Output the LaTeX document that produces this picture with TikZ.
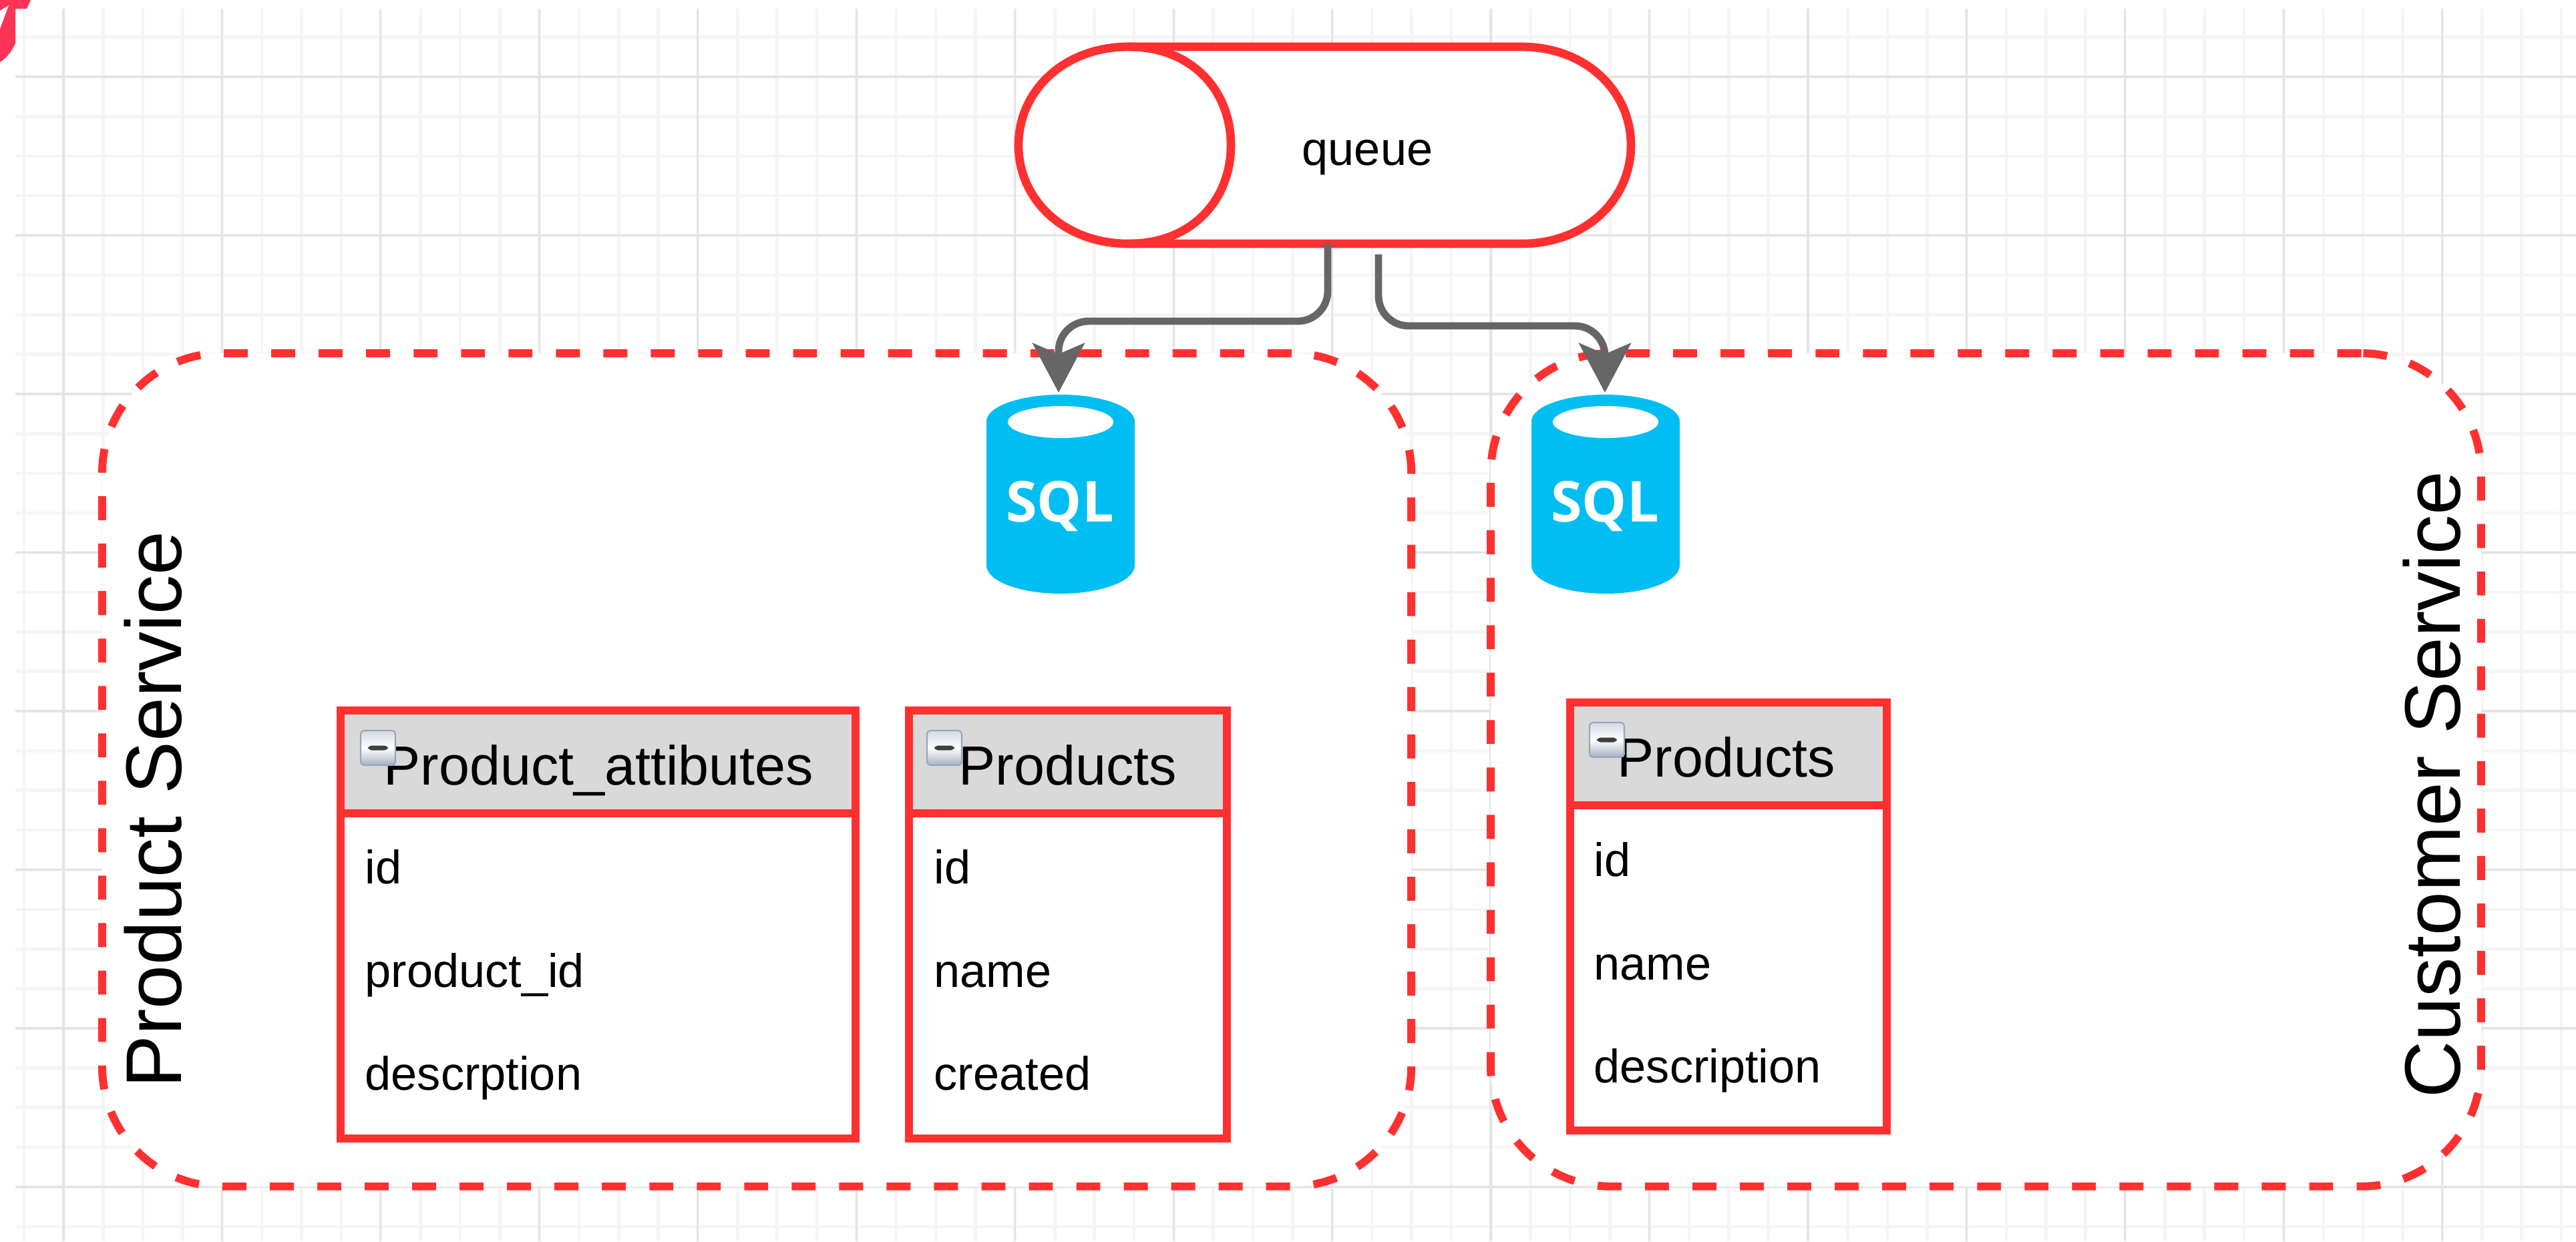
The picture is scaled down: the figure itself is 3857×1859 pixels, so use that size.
\documentclass[tikz,border=0pt]{standalone}
\usepackage{fontspec}
\setmainfont{Liberation Sans}
\newfontfamily\sqlfont{Open Sans}
\usetikzlibrary{arrows.meta,positioning}
\definecolor{accentred}{HTML}{FF3030}
\definecolor{flowgray}{HTML}{666666}
\definecolor{headgray}{HTML}{D9D9D9}
\definecolor{sqlblue}{HTML}{00BEF2}
\definecolor{markred}{HTML}{FF3355}
\definecolor{iconedge}{HTML}{98A6BA}
\definecolor{icontop}{HTML}{D3D9E2}
\definecolor{iconlow}{HTML}{A3B0C2}
\tikzset{
  gridminor/.style={line width=1.3pt,color=black!4},
  gridmajor/.style={line width=0.9pt,color=black!10},
  servicebox/.style={draw=accentred,fill=white,line width=3.4pt,dash pattern=on 10.2pt off 10pt,rounded corners=51pt,anchor=north west,outer sep=0pt,inner sep=0pt,minimum height=12.47cm},
  servicetext/.style={rotate=90,anchor=base west,inner sep=0pt,font=\fontsize{33.6}{40}\selectfont},
  queueline/.style={draw=accentred,line width=3.6pt},
  tablehead/.style={draw=accentred,fill=headgray,line width=3.4pt,anchor=north west,outer sep=0pt,inner sep=0pt,minimum height=1.54cm},
  tablebody/.style={draw=accentred,fill=white,line width=3.4pt,anchor=north west,outer sep=0pt,inner sep=0pt,minimum height=4.87cm},
  headtext/.style={anchor=base west,inner sep=0pt,font=\fontsize{23.5}{28}\selectfont},
  fieldtext/.style={anchor=base west,inner sep=0pt,font=\fontsize{20}{24}\selectfont},
  minusbox/.style={draw=iconedge,top color=icontop,bottom color=iconlow,middle color=white,rounded corners=1.5pt,line width=0.6pt,minimum size=0.52cm,inner sep=0pt,
    path picture={\fill[black!75] ([shift={(-0.15cm,-0.035cm)}]path picture bounding box.center) rectangle ([shift={(0.15cm,0.035cm)}]path picture bounding box.center);}},
  dbframe/.style={minimum width=2.23cm,minimum height=3.01cm,inner sep=0pt,outer sep=0pt},
  sqltext/.style={anchor=base,inner sep=0pt,text=white,font=\sqlfont\bfseries\fontsize{24}{28}\selectfont},
  flowarrow/.style={draw=flowgray,line width=3.1pt,rounded corners=12.8pt,-{Stealth[length=21pt,width=22pt,inset=4.6pt]}},
}
\begin{document}
\begin{tikzpicture}[x=0.01cm,y=-0.01cm]
\useasboundingbox (0,0) rectangle (3857,1859);

% Background grid
\foreach \k in {0,...,64} \draw[gridminor] ({35.9+59.36*\k},13) -- ({35.9+59.36*\k},1859);
\foreach \k in {0,...,30} \draw[gridminor] (23,{55.7+59.37*\k}) -- (3857,{55.7+59.37*\k});
\foreach \k in {0,...,15} \draw[gridmajor] ({95+237.45*\k},13) -- ({95+237.45*\k},1859);
\foreach \k in {0,...,7} \draw[gridmajor] (23,{115+237.5*\k}) -- (3857,{115+237.5*\k});

% Corner mark
\fill[markred] (0,0) -- (46,0) -- (40,13) -- (23,13) -- (23,65) .. controls (16,80) and (8,88) .. (0,93) -- cycle;
\fill[white] (13,8) -- (0,16) -- (0,43) -- cycle;

% Service areas
\node[servicebox,minimum width=19.59cm] (productArea) at (153,529) {};
\node[servicebox,minimum width=14.82cm] (customerArea) at (2232,529) {};
\node[servicetext] (productLabel) at (271,1630) {Product Service};
\node[servicetext] (customerLabel) at (3683,1645) {Customer Service};

% Queue
\draw[queueline,fill=white] (1690,70) -- (2278,70)
  .. controls (2374,70) and (2442,136) .. (2442,217.5)
  .. controls (2442,299) and (2374,365) .. (2278,365) -- (1690,365)
  .. controls (1593,365) and (1525,299) .. (1525,217.5)
  .. controls (1525,136) and (1593,70) .. (1690,70) -- cycle;
\draw[queueline] (1690,70) .. controls (1785,70) and (1843,136) .. (1843,217.5)
  .. controls (1843,299) and (1785,365) .. (1690,365);
\node[fieldtext] (queueLabel) at (1949,247) {queue};

% Database of the product service
\begin{scope}[shift={(1588,0)}]
\fill[sqlblue] (-111,631) .. controls (-111,609) and (-61,591) .. (0,591) .. controls (61,591) and (111,609) .. (111,631)
  -- (111,847) .. controls (111,870) and (61,889) .. (0,889) .. controls (-61,889) and (-111,870) .. (-111,847) -- cycle;
\fill[white] (0,632) ellipse (79 and 24);
\node[sqltext] (dbProductText) at (-1,781) {SQL};
\end{scope}
\node[dbframe] (dbProduct) at (1585,738.5) {};

% Database of the customer service
\begin{scope}[shift={(2404,0)}]
\fill[sqlblue] (-111,631) .. controls (-111,609) and (-61,591) .. (0,591) .. controls (61,591) and (111,609) .. (111,631)
  -- (111,847) .. controls (111,870) and (61,889) .. (0,889) .. controls (-61,889) and (-111,870) .. (-111,847) -- cycle;
\fill[white] (0,632) ellipse (79 and 24);
\node[sqltext] (dbCustomerText) at (-1,781) {SQL};
\end{scope}
\node[dbframe] (dbCustomer) at (2403,738.5) {};

% Product_attibutes table
\node[tablebody,minimum width=7.71cm] (attrBody) at (510,1218) {};
\node[tablehead,minimum width=7.71cm] (attrHead) at (510,1064) {};
\node[headtext] (attrTitle) at (574,1175) {Product\_attibutes};
\node[minusbox] (attrToggle) at (566,1120) {};
\node[fieldtext] (attrId) at (546,1323) {id};
\node[fieldtext] (attrProductId) at (546,1478) {product\_id};
\node[fieldtext] (attrDescr) at (546,1632) {descrption};

% Products table, product service
\node[tablebody,minimum width=4.76cm] (prodBody) at (1361,1218) {};
\node[tablehead,minimum width=4.76cm] (prodHead) at (1361,1064) {};
\node[headtext] (prodTitle) at (1435,1175) {Products};
\node[minusbox] (prodToggle) at (1414,1120) {};
\node[fieldtext] (prodId) at (1398,1323) {id};
\node[fieldtext] (prodName) at (1398,1478) {name};
\node[fieldtext] (prodCreated) at (1398,1632) {created};

% Products table, customer service
\node[tablebody,minimum width=4.74cm] (custBody) at (2351,1206) {};
\node[tablehead,minimum width=4.74cm] (custHead) at (2351,1052) {};
\node[headtext] (custTitle) at (2421,1163) {Products};
\node[minusbox] (custToggle) at (2406,1108) {};
\node[fieldtext] (custId) at (2386,1312) {id};
\node[fieldtext] (custName) at (2386,1467) {name};
\node[fieldtext] (custDescr) at (2386,1621) {description};

% Flows out of the queue
\coordinate (queueOutL) at (1988,365);
\coordinate (queueOutR) at (2064,381);
\coordinate (bendL) at (1988,481);
\coordinate (bendR) at (2064,488);
\draw[flowarrow] (queueOutL) -- (bendL) -| (dbProduct.north);
\draw[flowarrow] (queueOutR) -- (bendR) -| (dbCustomer.north);
\end{tikzpicture}
\end{document}
